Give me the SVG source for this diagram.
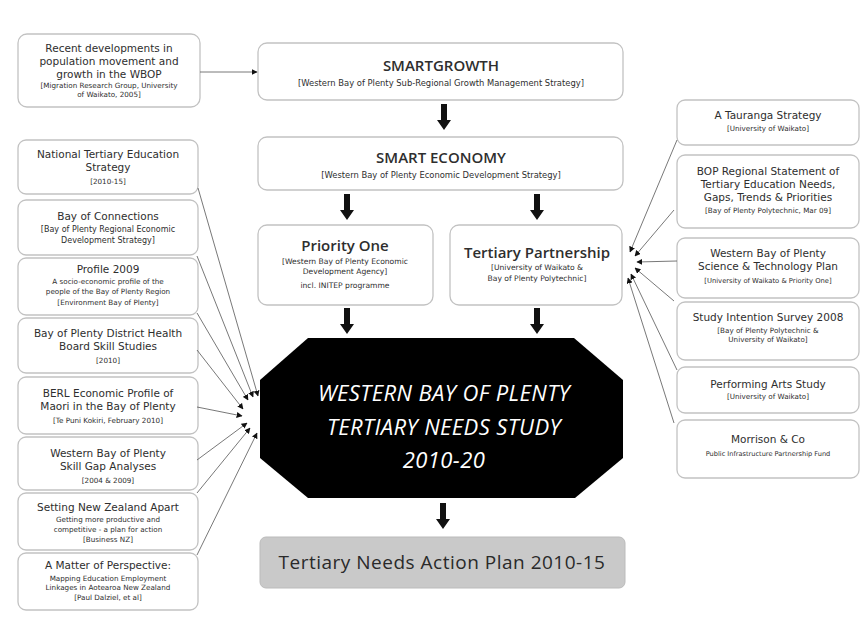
<svg xmlns="http://www.w3.org/2000/svg" width="865" height="617" viewBox="0 0 865 617">
  <style>
    text { font-family: "DejaVu Sans", "Open Sans", sans-serif; fill: #2e2e2e; text-anchor: middle; }
    .box { fill: #fff; stroke: #c2c2c2; stroke-width: 1.3; }
    .t { font-size: 10.5px; }
    .s { font-size: 7.2px; }
    .m { font-size: 8px; }
    .h { font-family: "Open Sans", "DejaVu Sans", sans-serif; font-size: 15px; font-weight: 600; }
    .hs { font-size: 8.4px; }
    .oct { font-family: "Open Sans", "DejaVu Sans", sans-serif; font-size: 22px; font-style: italic; fill: #fff; letter-spacing: 0.4px; }
    .conn { stroke: #555; stroke-width: 0.8; fill: none; marker-end: url(#tip); }
    .big { fill: #111; }
  </style>
  <defs>
    <marker id="tip" viewBox="0 0 10 10" refX="9" refY="5" markerWidth="6" markerHeight="6" orient="auto" markerUnits="userSpaceOnUse">
      <path d="M0,0 L10,5 L0,10 z" fill="#111"/>
    </marker>
    <path id="fat" d="M-3,0 H3 V16 H7 L0,26 L-7,16 H-3 z"/>
  </defs>
  <rect width="865" height="617" fill="#fff"/>

  <!-- left column sources -->
  <g id="n-recent">
    <rect class="box" x="18" y="34" width="182" height="73" rx="9"/>
    <text class="t" x="109" y="52">Recent developments in</text>
    <text class="t" x="109" y="65">population movement and</text>
    <text class="t" x="109" y="78">growth in the WBOP</text>
    <text class="s" x="109" y="88">[Migration Research Group, University</text>
    <text class="s" x="109" y="97">of Waikato, 2005]</text>
  </g>
  <g id="n-national">
    <rect class="box" x="18" y="140" width="180" height="54" rx="8"/>
    <text class="t" x="108" y="158">National Tertiary Education</text>
    <text class="t" x="108" y="171">Strategy</text>
    <text class="s" x="108" y="184">[2010-15]</text>
  </g>
  <g id="n-connections">
    <rect class="box" x="18" y="200" width="180" height="55" rx="8"/>
    <text class="t" x="108" y="220">Bay of Connections</text>
    <text class="m" x="108" y="232">[Bay of Plenty Regional Economic</text>
    <text class="m" x="108" y="243">Development Strategy]</text>
  </g>
  <g id="n-profile">
    <rect class="box" x="18" y="258" width="180" height="57" rx="8"/>
    <text class="t" x="108" y="273">Profile 2009</text>
    <text class="s" x="108" y="284">A socio-economic profile of the</text>
    <text class="s" x="108" y="294">people of the Bay of Plenty Region</text>
    <text class="s" x="108" y="305">[Environment Bay of Plenty]</text>
  </g>
  <g id="n-health">
    <rect class="box" x="18" y="318" width="180" height="55" rx="8"/>
    <text class="t" x="108" y="337">Bay of Plenty District Health</text>
    <text class="t" x="108" y="350">Board Skill Studies</text>
    <text class="s" x="108" y="363">[2010]</text>
  </g>
  <g id="n-berl">
    <rect class="box" x="18" y="377" width="180" height="57" rx="8"/>
    <text class="t" x="108" y="397">BERL Economic Profile of</text>
    <text class="t" x="108" y="410">Maori in the Bay of Plenty</text>
    <text class="s" x="108" y="423">[Te Puni Kokiri, February 2010]</text>
  </g>
  <g id="n-skillgap">
    <rect class="box" x="18" y="437" width="180" height="53" rx="8"/>
    <text class="t" x="108" y="457">Western Bay of Plenty</text>
    <text class="t" x="108" y="470">Skill Gap Analyses</text>
    <text class="s" x="108" y="483">[2004 &amp; 2009]</text>
  </g>
  <g id="n-apart">
    <rect class="box" x="18" y="493" width="180" height="57" rx="8"/>
    <text class="t" x="108" y="511">Setting New Zealand Apart</text>
    <text class="s" x="108" y="522">Getting more productive and</text>
    <text class="s" x="108" y="532">competitive - a plan for action</text>
    <text class="s" x="108" y="542">[Business NZ]</text>
  </g>
  <g id="n-perspective">
    <rect class="box" x="18" y="553" width="180" height="57" rx="8"/>
    <text class="t" x="108" y="569">A Matter of Perspective:</text>
    <text class="s" x="108" y="581">Mapping Education Employment</text>
    <text class="s" x="108" y="590">Linkages in Aotearoa New Zealand</text>
    <text class="s" x="108" y="600">[Paul Dalziel, et al]</text>
  </g>

  <!-- central spine -->
  <g id="n-smartgrowth">
    <rect class="box" x="258" y="43" width="365" height="57" rx="9"/>
    <text class="h" x="441" y="71">SMARTGROWTH</text>
    <text class="hs" x="441" y="86">[Western Bay of Plenty Sub-Regional Growth Management Strategy]</text>
  </g>
  <g id="n-smarteconomy">
    <rect class="box" x="258" y="137" width="365" height="53" rx="9"/>
    <text class="h" x="441" y="163">SMART ECONOMY</text>
    <text class="hs" x="441" y="178">[Western Bay of Plenty Economic Development Strategy]</text>
  </g>
  <g id="n-priorityone">
    <rect class="box" x="258" y="225" width="175" height="80" rx="9"/>
    <text class="h" x="345" y="251">Priority One</text>
    <text class="s" x="345" y="264" style="font-size:7.6px">[Western Bay of Plenty Economic</text>
    <text class="s" x="345" y="274" style="font-size:7.6px">Development Agency]</text>
    <text class="s" x="345" y="288" style="font-size:7.6px">incl. INITEP programme</text>
  </g>
  <g id="n-partnership">
    <rect class="box" x="450" y="225" width="172" height="80" rx="9"/>
    <text class="h" x="537" y="258">Tertiary Partnership</text>
    <text class="s" x="537" y="270" style="font-size:7.6px">[University of Waikato &amp;</text>
    <text class="s" x="537" y="281" style="font-size:7.6px">Bay of Plenty Polytechnic]</text>
  </g>
  <g id="n-study">
    <polygon points="308,338 574,338 623,380 623,458 575,498 308,498 260,458 260,380" fill="#000"/>
    <text class="oct" x="444" y="401">WESTERN BAY OF PLENTY</text>
    <text class="oct" x="444" y="435">TERTIARY NEEDS STUDY</text>
    <text class="oct" x="444" y="468">2010-20</text>
  </g>
  <g id="n-actionplan">
    <rect x="260" y="537" width="365" height="51" rx="6" fill="#c9c9c9" stroke="#bbb" stroke-width="1"/>
    <text x="442" y="569" style="font-family:'Open Sans','DejaVu Sans',sans-serif;font-size:19px;letter-spacing:0.5px;fill:#2a2a2a">Tertiary Needs Action Plan 2010-15</text>
  </g>

  <!-- right column sources -->
  <g id="n-tauranga">
    <rect class="box" x="677" y="100" width="182" height="45" rx="8"/>
    <text class="t" x="768" y="119">A Tauranga Strategy</text>
    <text class="s" x="768" y="131">[University of Waikato]</text>
  </g>
  <g id="n-bopstatement">
    <rect class="box" x="677" y="155" width="182" height="73" rx="8"/>
    <text class="t" x="768" y="175">BOP Regional Statement of</text>
    <text class="t" x="768" y="188">Tertiary Education Needs,</text>
    <text class="t" x="768" y="201">Gaps, Trends &amp; Priorities</text>
    <text class="s" x="768" y="213">[Bay of Plenty Polytechnic, Mar 09]</text>
  </g>
  <g id="n-science">
    <rect class="box" x="677" y="238" width="182" height="60" rx="8"/>
    <text class="t" x="768" y="257">Western Bay of Plenty</text>
    <text class="t" x="768" y="270">Science &amp; Technology Plan</text>
    <text class="s" x="768" y="283" style="font-size:6.8px">[University of Waikato &amp; Priority One]</text>
  </g>
  <g id="n-intention">
    <rect class="box" x="677" y="302" width="182" height="58" rx="8"/>
    <text class="t" x="768" y="321">Study Intention Survey 2008</text>
    <text class="s" x="768" y="333">[Bay of Plenty Polytechnic &amp;</text>
    <text class="s" x="768" y="342">University of Waikato]</text>
  </g>
  <g id="n-arts">
    <rect class="box" x="677" y="367" width="182" height="46" rx="8"/>
    <text class="t" x="768" y="388">Performing Arts Study</text>
    <text class="s" x="768" y="399">[University of Waikato]</text>
  </g>
  <g id="n-morrison">
    <rect class="box" x="677" y="420" width="182" height="58" rx="8"/>
    <text class="t" x="768" y="443">Morrison &amp; Co</text>
    <text class="s" x="768" y="456" style="font-size:6.6px">Public Infrastructure Partnership Fund</text>
  </g>

  <!-- connectors -->
  <g id="connectors">
    <path class="conn" d="M200,72 L257,72"/>
    <!-- sources feeding the study -->
    <path class="conn" d="M198,188 L258,396"/>
    <path class="conn" d="M197,256 L253,397"/>
    <path class="conn" d="M197,313 L248,400"/>
    <path class="conn" d="M197,350 L243,409"/>
    <path class="conn" d="M197,407 L242,416"/>
    <path class="conn" d="M197,460 L247,423"/>
    <path class="conn" d="M197,493 L250,428"/>
    <path class="conn" d="M197,555 L257,433"/>
    <!-- sources feeding the partnership -->
    <path class="conn" d="M677,140 L630,252"/>
    <path class="conn" d="M674,210 L635,256"/>
    <path class="conn" d="M677,261 L637,262"/>
    <path class="conn" d="M674,301 L635,268"/>
    <path class="conn" d="M677,370 L631,274"/>
    <path class="conn" d="M674,423 L628,278"/>
    <!-- main flow arrows -->
    <use href="#fat" class="big" x="444" y="104"/>
    <use href="#fat" class="big" x="347" y="194"/>
    <use href="#fat" class="big" x="537" y="194"/>
    <use href="#fat" class="big" x="347" y="308"/>
    <use href="#fat" class="big" x="537" y="308"/>
    <use href="#fat" class="big" x="443" y="503"/>
  </g>
</svg>
